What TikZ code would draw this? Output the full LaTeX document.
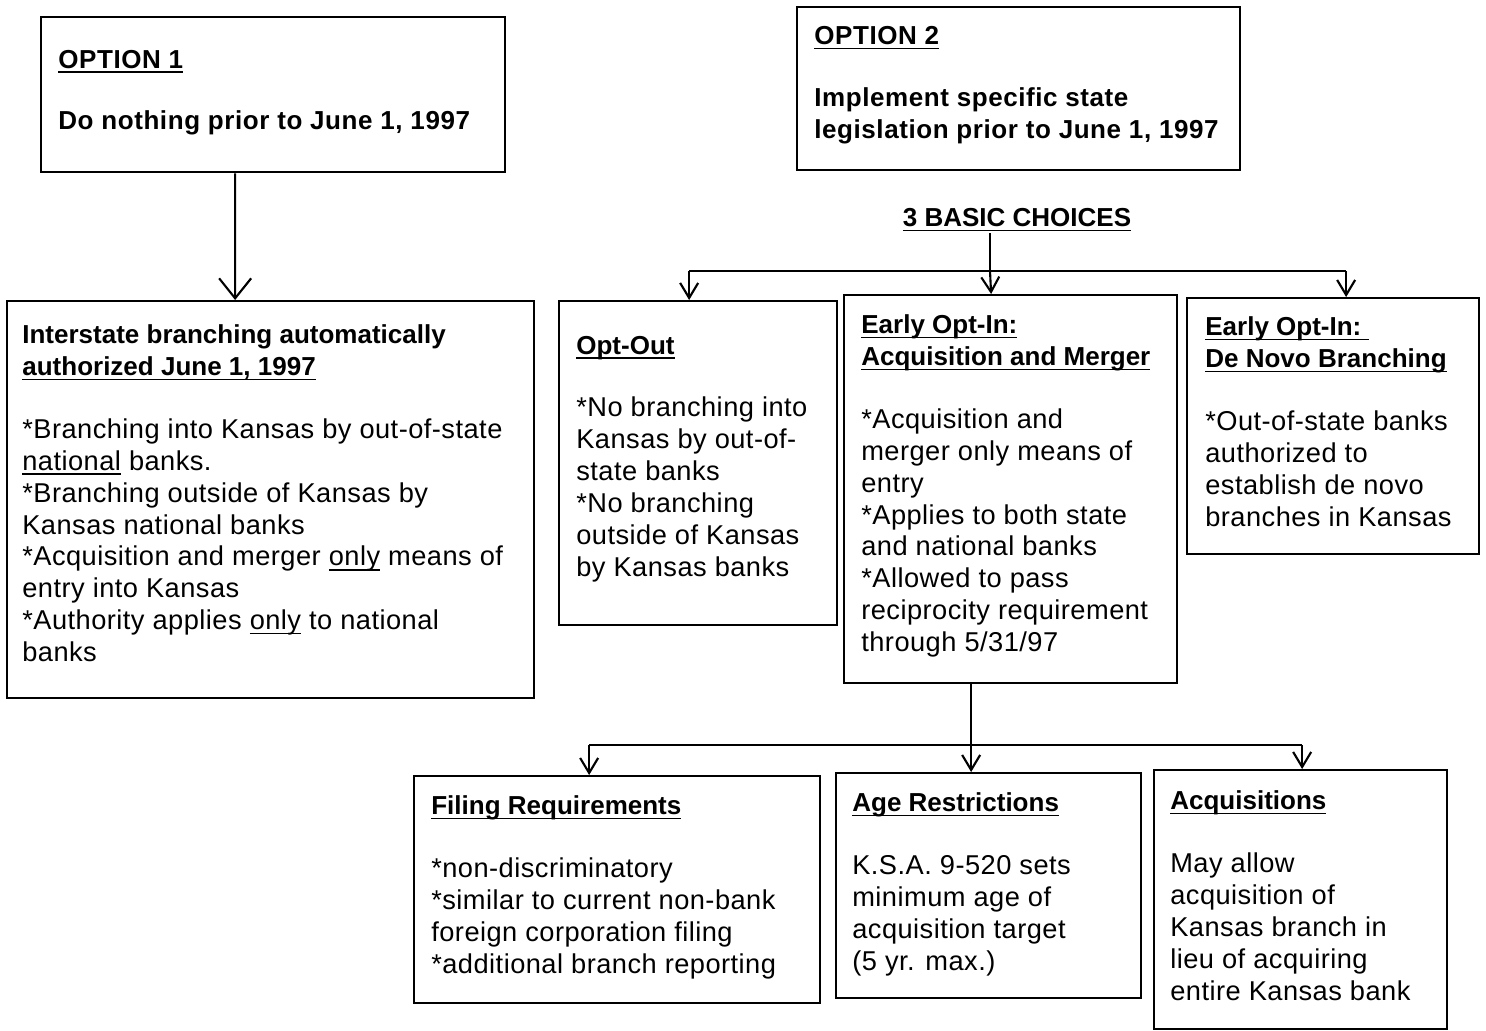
\documentclass[tikz,border=0pt]{standalone}
\usepackage{fontspec}
\setmainfont{Liberation Sans}
\usetikzlibrary{arrows.meta}

\newcommand{\headfont}{\fontsize{14.8}{18.14}\selectfont\bfseries\addfontfeature{LetterSpace=0}}
\newcommand{\optfont}{\headfont\addfontfeature{LetterSpace=2.2}}
\newcommand{\bodyfont}{\fontsize{15.5}{18.14}\selectfont\addfontfeature{LetterSpace=1.7}}
\newsavebox{\undlbox}
\newcommand{\undl}[1]{\sbox{\undlbox}{#1}\rlap{\rule[-2.6pt]{\wd\undlbox}{0.9pt}}\usebox{\undlbox}}

\tikzset{
  box/.style={draw, line width=1.3pt, anchor=north west, inner sep=0pt},
  txt/.style={anchor=north west, align=left, inner sep=0pt, font=\bodyfont},
  ln/.style={line width=1.2pt},
  arr/.style={line width=1.2pt, -{Straight Barb[length=3mm,width=3.6mm]}},
}

\begin{document}
\begin{tikzpicture}
\useasboundingbox (0,0) rectangle (29.72,-20.6);

% boxes
\node[box, minimum width=9.28cm, minimum height=3.10cm] (opt1) at (0.80,-0.32) {};
\node[box, minimum width=8.86cm, minimum height=3.26cm] (opt2) at (15.92,-0.12) {};
\node[box, minimum width=10.54cm, minimum height=7.94cm] (auto) at (0.12,-6.00) {};
\node[box, minimum width=5.56cm, minimum height=6.48cm] (optout) at (11.16,-6.00) {};
\node[box, minimum width=6.66cm, minimum height=7.76cm] (merger) at (16.86,-5.88) {};
\node[box, minimum width=5.84cm, minimum height=5.12cm] (denovo) at (23.72,-5.94) {};
\node[box, minimum width=8.12cm, minimum height=4.54cm] (filing) at (8.26,-15.50) {};
\node[box, minimum width=6.10cm, minimum height=4.50cm] (age) at (16.70,-15.44) {};
\node[box, minimum width=5.86cm, minimum height=5.18cm] (acq) at (23.06,-15.38) {};

% texts
\node[txt] (opt1txt) at (1.16,-0.99) {{\optfont\undl{OPTION 1}}\\[0.60cm]
  {\optfont Do nothing prior to June 1, 1997}};
\node[txt] (opt2txt) at (16.28,-0.52) {{\optfont\undl{OPTION 2}}\\[0.60cm]
  {\optfont Implement specific state}\\
  {\optfont legislation prior to June 1, 1997}};
\node[txt] (autotxt) at (0.44,-6.49) {{\headfont Interstate branching automatically}\\
  {\headfont\undl{authorized June 1, 1997}}\\[0.62cm]
  *Branching into Kansas by out-of-state\\
  \undl{national} banks.\\
  *Branching outside of Kansas by\\
  Kansas national banks\\
  *Acquisition and merger \undl{only} means of\\
  entry into Kansas\\
  *Authority applies \undl{only} to national\\
  banks};
\node[txt] (optouttxt) at (11.52,-6.71) {{\headfont\undl{Opt-Out}}\\[0.62cm]
  *No branching into\\
  Kansas by out-of-\\
  state banks\\
  *No branching\\
  outside of Kansas\\
  by Kansas banks};
\node[txt] (mergertxt) at (17.22,-6.29) {{\headfont\undl{Early Opt-In:}}\\
  {\headfont\undl{Acquisition and Merger}}\\[0.62cm]
  *Acquisition and\\
  merger only means of\\
  entry\\
  *Applies to both state\\
  and national banks\\
  *Allowed to pass\\
  reciprocity requirement\\
  through 5/31/97};
\node[txt] (denovotxt) at (24.10,-6.33) {{\headfont\undl{Early Opt-In:\ }}\\
  {\headfont\undl{De Novo Branching}}\\[0.62cm]
  *Out-of-state banks\\
  authorized to\\
  establish de novo\\
  branches in Kansas};
\node[txt] (filingtxt) at (8.62,-15.91) {{\headfont\undl{Filing Requirements}}\\[0.62cm]
  *non-discriminatory\\
  *similar to current non-bank\\
  foreign corporation filing\\
  *additional branch reporting};
\node[txt] (agetxt) at (17.04,-15.85) {{\headfont\undl{Age Restrictions}}\\[0.62cm]
  K.S.A. 9-520 sets\\
  minimum age of\\
  acquisition target\\
  (5 yr. max.)};
\node[txt] (acqtxt) at (23.40,-15.81) {{\headfont\undl{Acquisitions}}\\[0.62cm]
  May allow\\
  acquisition of\\
  Kansas branch in\\
  lieu of acquiring\\
  entire Kansas bank};
\node[font=\headfont, inner sep=1pt] (choices) at (20.34,-4.40) {\undl{3 BASIC CHOICES}};

% connectors
\draw[line width=1.2pt, -{Straight Barb[length=4mm,width=6.4mm]}]
  ([xshift=-0.76cm]opt1.south) -- ([xshift=-0.71cm]auto.north);

\coordinate (split1) at (19.80,-5.42);
\coordinate (inOut) at ([xshift=-0.18cm]optout.north);
\coordinate (inMerger) at ([xshift=-0.39cm]merger.north);
\coordinate (inNovo) at ([xshift=0.26cm]denovo.north);
\draw[ln] (choices.south -| split1) -- (split1);
\draw[ln] (inOut |- split1) -- (inNovo |- split1);
\draw[arr] (inOut |- split1) -- (inOut);
\draw[arr] (split1) -- (inMerger);
\draw[arr] (inNovo |- split1) -- (inNovo);

\coordinate (outMerger) at ([xshift=-0.79cm]merger.south);
\coordinate (split2) at (outMerger |- 0,-14.90);
\coordinate (inFiling) at ([xshift=-0.56cm]filing.north);
\coordinate (inAge) at ([xshift=-0.35cm]age.north);
\coordinate (inAcq) at ([xshift=0.03cm]acq.north);
\draw[ln] (outMerger) -- (split2);
\draw[ln] (inFiling |- split2) -- (inAcq |- split2);
\draw[arr] (inFiling |- split2) -- (inFiling);
\draw[arr] (inAge |- split2) -- (inAge);
\draw[arr] (inAcq |- split2) -- (inAcq);
\end{tikzpicture}
\end{document}
